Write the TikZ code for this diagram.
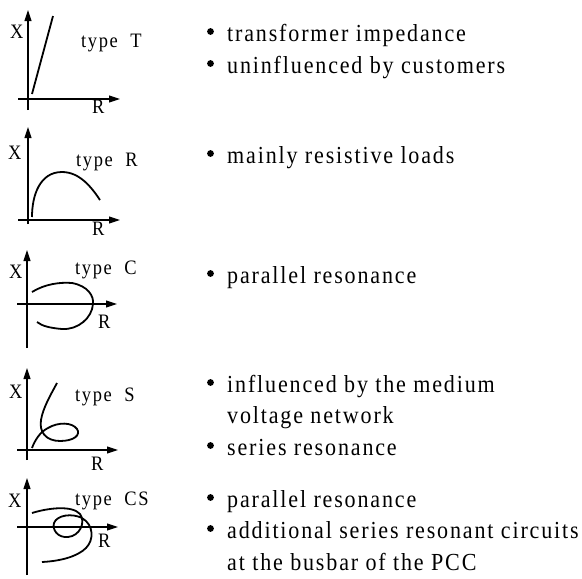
\documentclass[tikz,border=0pt]{standalone}
\usepackage{fontspec}
\setmainfont{Liberation Serif}
\newfontfamily\txtfont[FakeStretch=0.9,LetterSpace=7.5]{Liberation Serif}
\newfontfamily\lblfont[FakeStretch=0.9,LetterSpace=8,WordSpace=2]{Liberation Serif}
\usetikzlibrary{arrows.meta}
\tikzset{
  axis/.style={line width=1.1pt,-{Triangle[length=11pt,width=7pt]}},
  curve/.style={line width=1.8pt},
  lbl/.style={anchor=base west,inner sep=0pt,font=\lblfont\fontsize{20.5}{20.5}\selectfont},
  blt/.style={circle,fill=black,inner sep=0pt,minimum size=6.8pt},
  btxt/.style={anchor=base west,inner sep=0pt,font=\txtfont\fontsize{24.5}{24.5}\selectfont},
}
\begin{document}
\begin{tikzpicture}[x=1pt,y=-1pt]
\useasboundingbox (0,0) rectangle (582,579);
% ---------- panel T
\coordinate (t0) at (28,110); \coordinate (t1) at (28,10);
\coordinate (t2) at (18,99); \coordinate (t3) at (120,99);
\draw[axis] (t0) -- (t1);
\draw[axis] (t2) -- (t3);
\draw[curve] (32,94) -- (53,16);
\node[lbl] (tX) at (10,38) {X};
\node[lbl] (tT) at (81,47) {type T};
\node[lbl] (tR) at (92,113) {R};
% ---------- panel R
\coordinate (r0) at (28,224); \coordinate (r1) at (28,127);
\coordinate (r2) at (18,220); \coordinate (r3) at (120,220);
\draw[axis] (r0) -- (r1);
\draw[axis] (r2) -- (r3);
\draw[curve] (32,217) .. controls (32,195) and (40,172) .. (62,172) .. controls (80,172) and (92,188) .. (100,200);
\node[lbl] (rX) at (8,159) {X};
\node[lbl] (rT) at (76,166) {type R};
\node[lbl] (rR) at (92,235) {R};
% ---------- panel C
\coordinate (c0) at (27,348); \coordinate (c1) at (27,250);
\coordinate (c2) at (17,304); \coordinate (c3) at (117,304);
\draw[axis] (c0) -- (c1);
\draw[axis] (c2) -- (c3);
\draw[curve] (32,292) .. controls (45,284) and (60,282) .. (72,283) .. controls (88,286) and (94,296) .. (93,304) .. controls (92,318) and (78,330) .. (62,329) .. controls (50,328) and (42,326) .. (37,322);
\node[lbl] (cX) at (9,278) {X};
\node[lbl] (cT) at (75,274) {type C};
\node[lbl] (cR) at (98,328) {R};
% ---------- panel S
\coordinate (s0) at (27,460); \coordinate (s1) at (27,368);
\coordinate (s2) at (17,450); \coordinate (s3) at (118,450);
\draw[axis] (s0) -- (s1);
\draw[axis] (s2) -- (s3);
\draw[curve] (57,383) .. controls (50,396) and (43,408) .. (41,420) .. controls (39,432) and (46,441) .. (60,441) .. controls (74,441) and (81,435) .. (77,429) .. controls (72,422) and (58,422) .. (48,428) .. controls (40,432) and (35,440) .. (32,448);
\node[lbl] (sX) at (9,398) {X};
\node[lbl] (sT) at (75,401) {type S};
\node[lbl] (sR) at (91,470) {R};
% ---------- panel CS
\coordinate (k0) at (27,575); \coordinate (k1) at (27,478);
\coordinate (k2) at (17,527); \coordinate (k3) at (118,527);
\draw[axis] (k0) -- (k1);
\draw[axis] (k2) -- (k3);
\draw[curve] (32,513) .. controls (48,508) and (72,505) .. (80,514) .. controls (86,522) and (80,536) .. (68,537) .. controls (58,538) and (52,530) .. (54,523) .. controls (57,515) and (72,513) .. (82,518) .. controls (94,525) and (94,540) .. (86,548) .. controls (78,556) and (62,561) .. (42,562);
\node[lbl] (kX) at (8,507) {X};
\node[lbl] (kT) at (75,505) {type CS};
\node[lbl] (kR) at (98,547) {R};
% ---------- bullet texts
\node[blt] (b1) at (210.5,31.5) {};
\node[btxt] (l1) at (227,41) {transformer impedance};
\node[blt] (b2) at (210.5,63.5) {};
\node[btxt] (l2) at (227,73) {uninfluenced by customers};
\node[blt] (b3) at (210.5,153.5) {};
\node[btxt] (l3) at (227,163) {mainly resistive loads};
\node[blt] (b4) at (210.5,273.5) {};
\node[btxt] (l4) at (227,283) {parallel resonance};
\node[blt] (b5) at (210.5,382.5) {};
\node[btxt] (l5) at (227,392) {influenced by the medium};
\node[btxt] (l6) at (227,423) {voltage network};
\node[blt] (b7) at (210.5,445.5) {};
\node[btxt] (l7) at (227,455) {series resonance};
\node[blt] (b8) at (210.5,497.5) {};
\node[btxt] (l8) at (227,507) {parallel resonance};
\node[blt] (b9) at (210.5,528.5) {};
\node[btxt] (l9) at (227,538) {additional series resonant circuits};
\node[btxt] (l10) at (227,570) {at the busbar of the PCC};
\end{tikzpicture}
\end{document}
